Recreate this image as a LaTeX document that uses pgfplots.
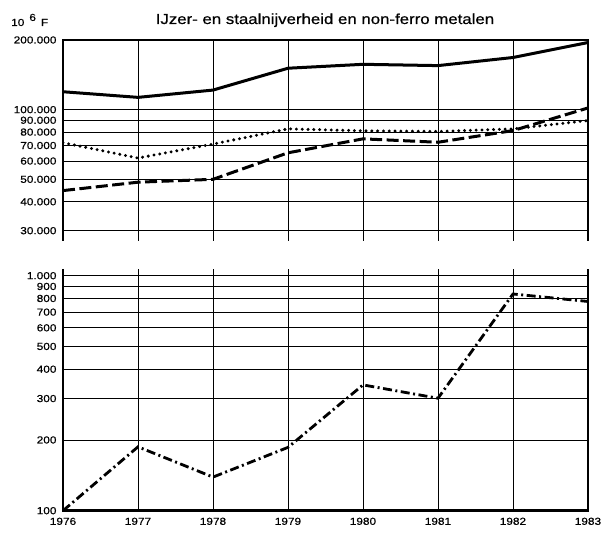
\documentclass[border=0pt]{standalone}
\usepackage{pgfplots}
\pgfplotsset{compat=1.18}
\usepackage{fontspec}
\setmainfont{Liberation Sans}
\newfontfamily\lblfont[FakeStretch=1.16, FakeBold=0.6]{Liberation Sans}

% one series per table, values in 10^6 F
\pgfplotstableread{
year v
1976 119500
1977 113000
1978 121500
1979 151000
1980 157000
1981 155000
1982 168000
1983 195000
}\tabsolid
\pgfplotstableread{
year v
1976 72000
1977 61800
1978 71000
1979 82600
1980 81000
1981 80500
1982 82600
1983 89700
}\tabdotted
\pgfplotstableread{
year v
1976 44700
1977 48600
1978 50000
1979 65100
1980 74800
1981 72300
1982 81200
1983 101700
}\tabdashed
\pgfplotstableread{
year v
1976 100
1977 187
1978 139
1979 186
1980 343
1981 301
1982 836
1983 777
}\tabdashdot

\pgfplotsset{
  mypanel/.style={
    scale only axis, width=525pt,
    xmin=1976, xmax=1983,
    xtick={1976,...,1983},
    axis line style={draw=none},
    major tick length=0pt,
    xmajorgrids, ymajorgrids,
    grid style={black, line width=0.9pt},
    clip mode=individual,
    ticklabel style={font=\lblfont\fontsize{10.2}{11}\selectfont},
    yticklabel style={xshift=-3pt},
  },
}
\tikzset{myframe/.style={line width=2.6pt, black}}

\begin{document}
\begin{tikzpicture}
\useasboundingbox (0,0) rectangle (614pt,533pt);
\node[anchor=base, inner sep=0pt] at (325pt,509pt) {\lblfont\fontsize{14.5}{16}\selectfont IJzer- en staalnijverheid en non-ferro metalen};
\node[anchor=base west, inner sep=0pt] at (11pt,507pt) {\lblfont\fontsize{10.2}{11}\selectfont 10\hspace{5pt}\raisebox{0.5em}{6}\hspace{5pt}F};

\begin{semilogyaxis}[mypanel,
  at={(63pt,292.3pt)}, anchor=south west, height=200.7pt,
  ymin=27160, ymax=200000,
  xticklabels=\empty,
  ytick={30000,40000,50000,60000,70000,80000,90000,100000,200000},
  yticklabels={30.000,40.000,50.000,60.000,70.000,80.000,90.000,100.000,200.000},
]
\addplot[black, line width=3pt, line join=round] table[x=year,y=v] {\tabsolid};
\addplot[black, line width=3.3pt, line cap=round, dash pattern=on 0pt off 5.8pt] table[x=year,y=v] {\tabdotted};
\addplot[black, line width=3pt, dash pattern=on 12pt off 4.5pt] table[x=year,y=v] {\tabdashed};
\draw[myframe] (rel axis cs:0,0) -- (rel axis cs:0,1) -- (rel axis cs:1,1) -- (rel axis cs:1,0);
\end{semilogyaxis}

\begin{semilogyaxis}[mypanel,
  at={(63pt,22.3pt)}, anchor=south west, height=241.7pt,
  ymin=100, ymax=1068,
  xticklabels={1976,1977,1978,1979,1980,1981,1982,1983},
  xticklabel style={yshift=-3.5pt},
  ytick={100,200,300,400,500,600,700,800,900,1000},
  yticklabels={100,200,300,400,500,600,700,800,900,1.000},
]
\addplot[black, line width=2.8pt, dash pattern=on 9pt off 3.5pt on 2pt off 3.5pt] table[x=year,y=v] {\tabdashdot};
\draw[myframe] (rel axis cs:0,1) -- (rel axis cs:0,0) -- (rel axis cs:1,0) -- (rel axis cs:1,1);
\end{semilogyaxis}
\end{tikzpicture}
\end{document}
